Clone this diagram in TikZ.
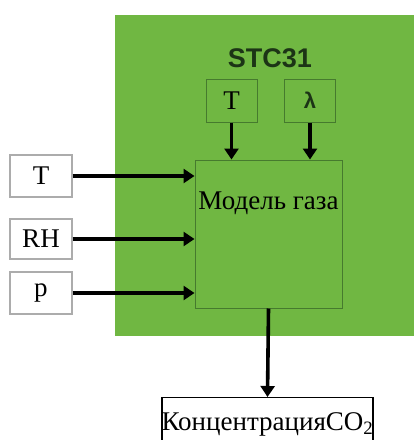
\documentclass[tikz,border=0pt]{standalone}
\usepackage{fontspec}
\setmainfont{Liberation Serif}
\newfontfamily\boardfont{Liberation Sans}
\usetikzlibrary{arrows.meta}
\definecolor{boardgreen}{RGB}{112,183,66}
\definecolor{edgegreen}{RGB}{70,122,46}
\definecolor{titlegreen}{RGB}{28,52,22}

\begin{document}
\begin{tikzpicture}[x=1pt, y=-1pt,
		inbox/.style={draw=gray!65, line width=1.3pt, fill=white, minimum width=62pt, minimum height=42pt, font=\fontsize{27}{29}\selectfont},
		sensbox/.style={draw=edgegreen, line width=1pt, fill=boardgreen, minimum width=51pt, minimum height=43pt, font=\fontsize{27}{29}\selectfont},
		flow/.style={line width=3.6pt, -{Triangle[length=11pt, width=14pt]}}]
		\path[use as bounding box, clip] (0,0) rectangle (414,440);

		% Board
		\fill[boardgreen] (115,15) rectangle (420,336);
		\node[font=\boardfont\bfseries\fontsize{27}{29}\selectfont, text=titlegreen] (title) at (270,58) {STC31};

		% Gas model
		\node[draw=edgegreen, line width=1pt, fill=boardgreen, minimum width=147pt, minimum height=148pt] (model) at (268.5,234) {};
		\node[font=\fontsize{27}{29}\selectfont] (modeltext) at (268.5,203) {Модель газа};

		% Internal sensors
		\node[sensbox] (tint) at (231.5,100.5) {T};
		\node[sensbox, font=\boardfont\bfseries\fontsize{22}{24}\selectfont, text=titlegreen] (lam) at (310,100.5) {λ};

		% External inputs
		\node[inbox] (tin) at (41,176) {T};
		\node[inbox, minimum height=40pt] (rhin) at (41,239) {RH};
		\node[inbox] (pin) at (41,293) {p};

		% Output
		\node[draw, line width=1.2pt, fill=white, minimum width=211pt, minimum height=56pt, anchor=north] (conc) at (267.5,397) {};
		\node[font=\fontsize{27}{29}\selectfont] (conctext) at (267.5,424) {КонцентрацияCO\textsubscript{2}};

		% Arrows
		\draw[flow] (tint.south) -- (tint.south |- model.north);
		\draw[flow] (lam.south) -- (lam.south |- model.north);
		\draw[flow] (tin.east) -- (tin.east -| model.west);
		\draw[flow] (rhin.east) -- (rhin.east -| model.west);
		\draw[flow] (pin.east) -- (pin.east -| model.west);
		\draw[flow] (model.south) -- (conc.north);
	\end{tikzpicture}
\end{document}
